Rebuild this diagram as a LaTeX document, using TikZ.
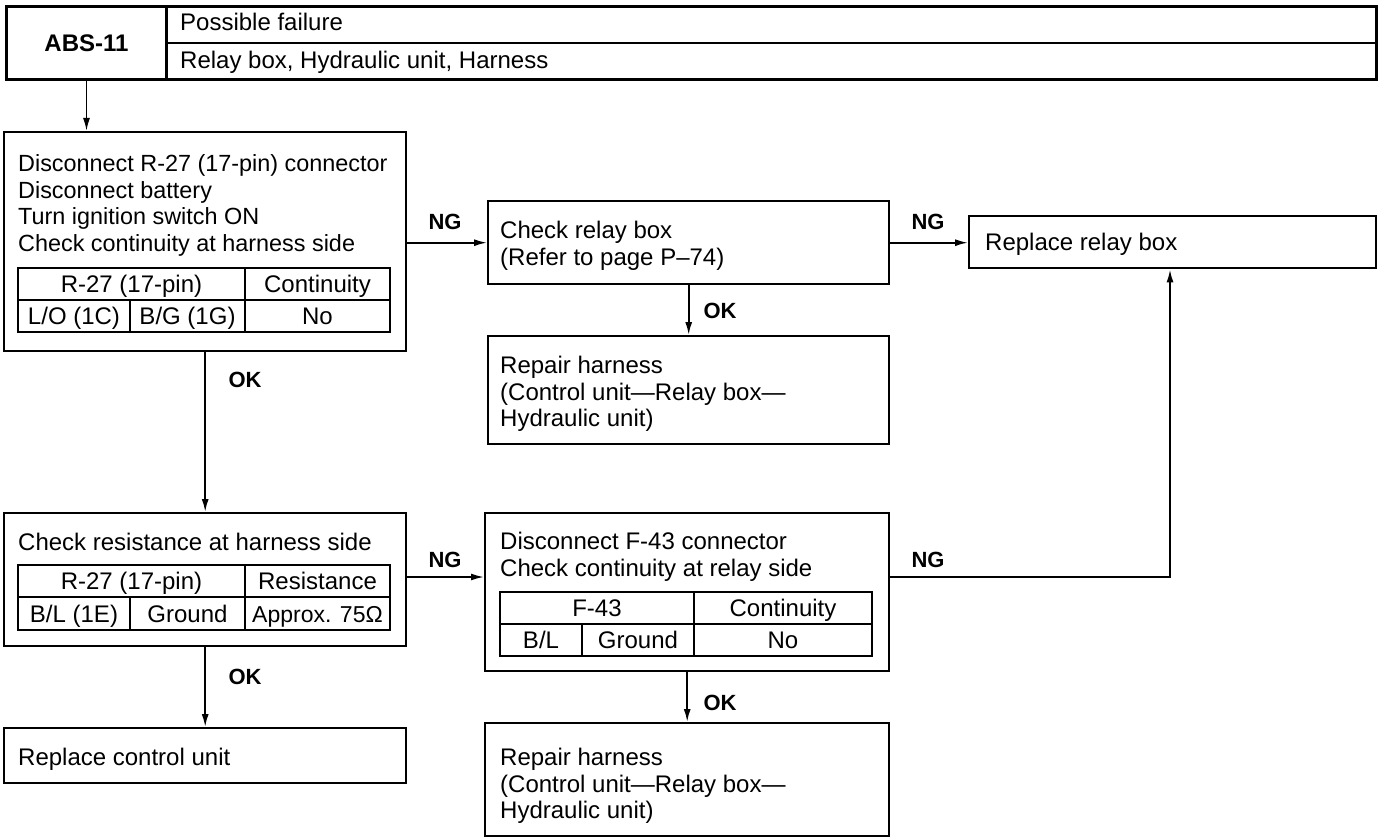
\documentclass[tikz,border=0pt]{standalone}
\usepackage{fontspec}
\setmainfont{Liberation Sans}
\usetikzlibrary{arrows.meta}
\begin{document}
\begin{tikzpicture}[x=1pt,y=-1pt,
  box/.style={draw, line width=2.4pt, inner sep=0pt, anchor=north west},
  hbox/.style={draw, line width=3pt, inner sep=0pt, anchor=north west},
  txt/.style={anchor=north west, inner sep=0pt, align=left, font=\fontsize{24}{26.6}\selectfont},
  cell/.style={anchor=base, inner sep=0pt, font=\fontsize{24}{26.6}\selectfont},
  lbl/.style={inner sep=0pt, font=\bfseries\fontsize{22}{26}\selectfont},
  tline/.style={line width=2pt},
  arr/.style={line width=1.8pt, -{Latex[length=13pt,width=7pt]}}
]
\useasboundingbox (0,0) rectangle (1392,840);

% header
\node[hbox, minimum width=1370pt, minimum height=73pt] (hdr) at (5,5) {};
\node[hbox, minimum width=160pt, minimum height=73pt, font=\bfseries\fontsize{24}{28}\selectfont] (hdrL) at (5,5) {ABS-11};
\draw[tline] (hdrL.east) -- (hdrL.east -| hdr.east);
\node[txt] (hdr1) at (180,13.1) {Possible failure};
\node[txt] (hdr2) at (180,51.1) {Relay box, Hydraulic unit, Harness};

% boxes
\node[box, minimum width=402pt, minimum height=219pt] (b1) at (3,131) {};
\node[box, minimum width=401pt, minimum height=83pt] (b2) at (487,200) {};
\node[box, minimum width=407pt, minimum height=52pt] (b3) at (968,215) {};
\node[box, minimum width=401pt, minimum height=108pt] (b4) at (487,335) {};
\node[box, minimum width=402pt, minimum height=133pt] (b5) at (3,512) {};
\node[box, minimum width=404pt, minimum height=158pt] (b6) at (484,512) {};
\node[box, minimum width=402pt, minimum height=55pt] (b7) at (3,727) {};
\node[box, minimum width=404pt, minimum height=113pt] (b8) at (484,722) {};

% texts
\node[txt, font=\fontsize{23.4}{26.6}\selectfont] (t1) at (18,154.3) {Disconnect R-27 (17-pin) connector\\Disconnect battery\\Turn ignition switch ON\\Check continuity at harness side};
\node[txt] (t2) at (500,221.1) {Check relay box\\(Refer to page P–74)};
\node[txt] (t3) at (985,233.1) {Replace relay box};
\node[txt] (t4) at (500,356.1) {Repair harness\\(Control unit—Relay box—\\Hydraulic unit)};
\node[txt] (t5) at (18,533.1) {Check resistance at harness side};
\node[txt] (t6) at (500,532.1) {Disconnect F-43 connector\\Check continuity at relay side};
\node[txt] (t7) at (18,748.1) {Replace control unit};
\node[txt] (t8) at (500,748.1) {Repair harness\\(Control unit—Relay box—\\Hydraulic unit)};

% table 1
\draw[tline] (18,268) rectangle (390,332);
\draw[tline] (18,300) -- (390,300);
\draw[tline] (245,268) -- (245,332);
\draw[tline] (130,300) -- (130,332);
\node[cell] (c11) at (131.5,292.6) {R-27 (17-pin)};
\node[cell] (c12) at (317.5,292.6) {Continuity};
\node[cell] (c13) at (74,324.6) {L/O (1C)};
\node[cell] (c14) at (187.5,324.6) {B/G (1G)};
\node[cell] (c15) at (317.5,324.6) {No};

% table 2
\draw[tline] (18,565) rectangle (390,630);
\draw[tline] (18,597) -- (390,597);
\draw[tline] (245,565) -- (245,630);
\draw[tline] (130,597) -- (130,630);
\node[cell] (c21) at (131.5,589.6) {R-27 (17-pin)};
\node[cell] (c22) at (317.5,589.6) {Resistance};
\node[cell] (c23) at (74,622.1) {B/L (1E)};
\node[cell] (c24) at (187.5,622.1) {Ground};
\node[cell, font=\fontsize{23}{26}\selectfont] (c25) at (317.5,622.1) {Approx. 75Ω};

% table 3
\draw[tline] (500,592) rectangle (872,656);
\draw[tline] (500,624) -- (872,624);
\draw[tline] (694,592) -- (694,656);
\draw[tline] (582,624) -- (582,656);
\node[cell] (c31) at (597,616.6) {F-43};
\node[cell] (c32) at (783,616.6) {Continuity};
\node[cell] (c33) at (541,648.6) {B/L};
\node[cell] (c34) at (638,648.6) {Ground};
\node[cell] (c35) at (783,648.6) {No};

% connectors
\coordinate (y5) at (0,577);
\coordinate (c6) at (1170,577);
\draw[arr] (hdrL.south) -- (hdrL.south |- b1.north);
\draw[arr] (b1.east |- b2.west) -- (b2.west);
\draw[arr] (b2.east) -- (b2.east -| b3.west);
\draw[arr] (b2.south) -- (b2.south |- b4.north);
\draw[arr] (b1.south) -- (b1.south |- b5.north);
\draw[arr] (b5.east |- y5) -- (b6.west |- y5);
\draw[arr] (b6.east |- c6) -- (c6) -- (c6 |- b3.south);
\draw[arr] (b5.south) -- (b5.south |- b7.north);
\draw[arr] (b6.south) -- (b6.south |- b8.north);

% labels
\node[lbl] (ng1) at (445,222) {NG};
\node[lbl] (ng2) at (928,222) {NG};
\node[lbl] (ng3) at (445,560) {NG};
\node[lbl] (ng4) at (928,560) {NG};
\node[lbl] (ok1) at (245,380) {OK};
\node[lbl] (ok2) at (720,311) {OK};
\node[lbl] (ok3) at (245,677) {OK};
\node[lbl] (ok4) at (720,703) {OK};
\end{tikzpicture}
\end{document}
